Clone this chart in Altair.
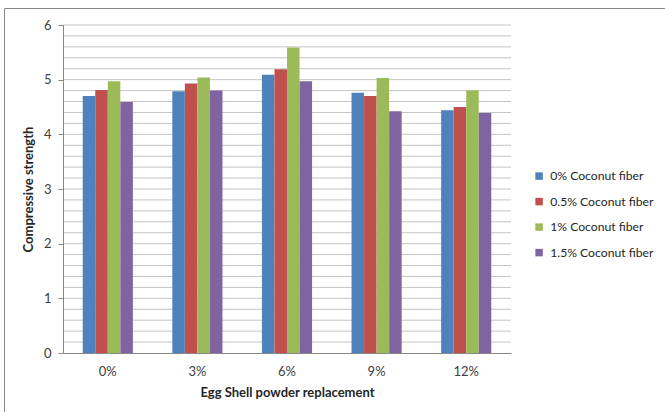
import altair as alt
import pandas as pd

# Egg shell powder replacement levels (x categories)
replacement = ["0%", "3%", "6%", "9%", "12%"]

# Coconut fiber series names
series = ["0% Coconut fiber", "0.5% Coconut fiber", "1% Coconut fiber", "1.5% Coconut fiber"]

# Compressive strength per series, one value per replacement level
fiber_0 = [4.70, 4.79, 5.09, 4.76, 4.44]
fiber_05 = [4.81, 4.93, 5.19, 4.70, 4.50]
fiber_1 = [4.97, 5.04, 5.59, 5.03, 4.80]
fiber_15 = [4.59, 4.80, 4.97, 4.42, 4.39]

colors = ["#4F81BD", "#C0504D", "#9BBB59", "#8064A2"]

# Minor gridline positions every 0.2 up to 6
grid_values = [0.2, 0.4, 0.6, 0.8, 1.0, 1.2, 1.4, 1.6, 1.8, 2.0,
               2.2, 2.4, 2.6, 2.8, 3.0, 3.2, 3.4, 3.6, 3.8, 4.0,
               4.2, 4.4, 4.6, 4.8, 5.0, 5.2, 5.4, 5.6, 5.8, 6.0]

rows = []
for name, vals in zip(series, [fiber_0, fiber_05, fiber_1, fiber_15]):
    for cat, v in zip(replacement, vals):
        rows.append({"replacement": cat, "series": name, "strength": v})
df = pd.DataFrame(rows)

FONT = "Lato"
TEXT = "#262626"

y_scale = alt.Scale(domain=[0, 6], nice=False)

# Outer chart frame
frame = alt.Chart(pd.DataFrame({"k": [0]})).mark_rect(
    fillOpacity=0, stroke="#878787", strokeWidth=1
).encode(
    x=alt.value(-58.5), x2=alt.value(700),
    y=alt.value(-16.5), y2=alt.value(420),
)

grid = alt.Chart(pd.DataFrame({"g": grid_values})).mark_rule(
    color="#c4c4c4", strokeWidth=1
).encode(
    y=alt.Y("g:Q", scale=y_scale)
)

bars = alt.Chart(df).mark_bar(size=12.5).encode(
    x=alt.X(
        "replacement:N",
        sort=replacement,
        scale=alt.Scale(paddingInner=0.44, paddingOuter=0.22),
        axis=alt.Axis(
            title="Egg Shell powder replacement",
            labelAngle=0,
            ticks=False,
            labelPadding=12,
            titlePadding=8,
            domainColor="#878787",
            zindex=1,
        ),
    ),
    xOffset=alt.XOffset("series:N", sort=series, scale=alt.Scale(paddingInner=0, paddingOuter=0)),
    y=alt.Y(
        "strength:Q",
        scale=y_scale,
        axis=alt.Axis(
            title="Compressive strength",
            values=[0, 1, 2, 3, 4, 5, 6],
            format="d",
            grid=False,
            tickSize=5,
            tickColor="#878787",
            domainColor="#878787",
            labelPadding=7,
            titlePadding=8,
            zindex=1,
        ),
    ),
    color=alt.Color(
        "series:N",
        sort=series,
        scale=alt.Scale(domain=series, range=colors),
        legend=alt.Legend(
            title=None,
            orient="none",
            legendX=470,
            legendY=145,
            symbolType="square",
            symbolSize=56,
            symbolStrokeWidth=0,
            rowPadding=12.5,
            labelOffset=5,
        ),
    ),
)

chart = alt.layer(frame, grid, bars).properties(
    width=448,
    height=328,
    padding={"left": 63, "top": 25, "right": 154, "bottom": 59},
    autosize=alt.AutoSizeParams(type="none"),
).configure_view(
    stroke=None
).configure_axis(
    labelFont=FONT,
    titleFont=FONT,
    labelFontSize=13,
    titleFontSize=13,
    labelColor="#404040",
    titleColor=TEXT,
    titleFontWeight="bold",
).configure_legend(
    labelFont=FONT,
    labelFontSize=12.2,
    labelColor=TEXT,
)

chart.save("out.html", embed_options={"renderer": "svg", "actions": False})
